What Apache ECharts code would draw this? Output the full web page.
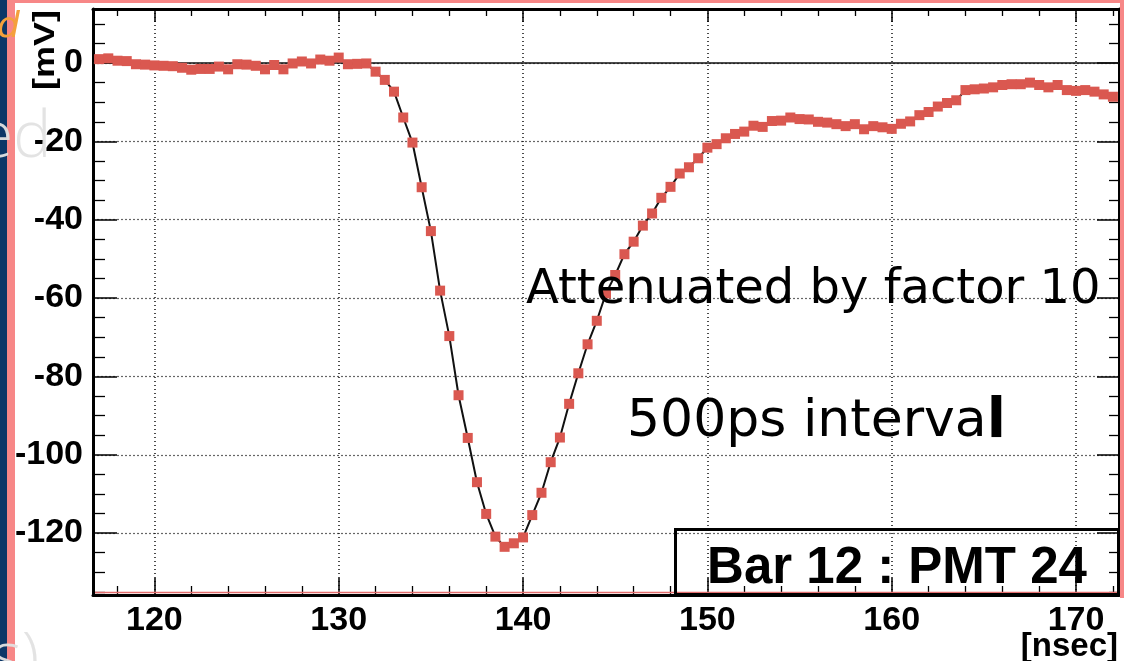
<!DOCTYPE html>
<html><head><meta charset="utf-8">
<script src="https://cdn.jsdelivr.net/npm/echarts@6/dist/echarts.min.js"></script>
<style>html,body{margin:0;padding:0;background:#fff;overflow:hidden}#c{width:1124px;height:661px}</style>
</head><body><div id="c"></div>
<script>
// ---- data ----
const times = [
  117.0,117.5,118.0,118.5,119.0,119.5,120.0,120.5,121.0,121.5,
  122.0,122.5,123.0,123.5,124.0,124.5,125.0,125.5,126.0,126.5,
  127.0,127.5,128.0,128.5,129.0,129.5,130.0,130.5,131.0,131.5,
  132.0,132.5,133.0,133.5,134.0,134.5,135.0,135.5,136.0,136.5,
  137.0,137.5,138.0,138.5,139.0,139.5,140.0,140.5,141.0,141.5,
  142.0,142.5,143.0,143.5,144.0,144.5,145.0,145.5,146.0,146.5,
  147.0,147.5,148.0,148.5,149.0,149.5,150.0,150.5,151.0,151.5,
  152.0,152.5,153.0,153.5,154.0,154.5,155.0,155.5,156.0,156.5,
  157.0,157.5,158.0,158.5,159.0,159.5,160.0,160.5,161.0,161.5,
  162.0,162.5,163.0,163.5,164.0,164.5,165.0,165.5,166.0,166.5,
  167.0,167.5,168.0,168.5,169.0,169.5,170.0,170.5,171.0,171.5,
  172.0
];
const voltages = [
  1.0,1.2,0.6,0.5,-0.3,-0.4,-0.6,-0.7,-0.8,-1.2,
  -1.7,-1.5,-1.5,-0.9,-1.6,-0.3,-0.4,-0.7,-1.6,-0.5,
  -1.6,-0.1,0.4,-0.1,0.9,0.6,1.4,-0.3,-0.2,-0.1,
  -2.2,-4.3,-7.3,-13.9,-20.3,-31.7,-42.9,-58.1,-69.7,-84.8,
  -95.7,-107.0,-115.1,-120.9,-123.5,-122.6,-121.1,-115.4,-109.7,-101.9,
  -95.6,-87.0,-79.2,-71.8,-65.8,-58.8,-54.1,-48.8,-45.6,-41.5,
  -38.4,-34.4,-31.6,-28.2,-26.6,-24.3,-21.6,-20.7,-19.2,-18.1,
  -17.5,-16.0,-16.3,-14.8,-14.7,-13.9,-14.3,-14.4,-15.0,-15.2,
  -15.6,-16.1,-15.6,-16.9,-16.1,-16.4,-16.8,-15.5,-14.9,-13.3,
  -12.5,-11.1,-10.2,-9.5,-6.9,-6.7,-6.5,-6.2,-5.6,-5.4,
  -5.4,-5.0,-5.6,-6.2,-5.6,-6.9,-7.1,-6.9,-7.3,-8.0,
  -8.6
];
const xRange = [116.67, 172.33];
const yRange = [-135.8, 13.8];
const xTickStep = 10;
const yTickStep = 20;
const xTitle = '[nsec]';
const yTitle = '[mV]';
const boxLabel = 'Bar 12 : PMT 24';
const note1 = 'Attenuated by factor 10';
const note2 = ['500ps interva', 'l'];
const slideFragments = ['d', 'ed', 's)'];

// ---- chart ----
const chart = echarts.init(document.getElementById('c'), null, {renderer: 'canvas'});
const boldFont = "'Liberation Sans',Arial,Helvetica,sans-serif";
function stepFormatter(step) {
  return function (v) {
    const r = Math.round(v / step) * step;
    return Math.abs(v - r) < 1e-6 ? String(r) : '';
  };
}
function makeX(pos, showLabel, majLen, minLen) {
  return {
    type: 'value', position: pos, min: xRange[0], max: xRange[1],
    splitNumber: 5, minInterval: xTickStep, maxInterval: xTickStep,
    axisLine: {show: true, onZero: false, lineStyle: {color: '#000', width: 3}},
    axisTick: {show: true, inside: true, length: majLen, lineStyle: {color: '#000', width: 1.5}},
    minorTick: {show: true, splitNumber: 5, length: minLen, lineStyle: {color: '#000', width: 1.3}},
    axisLabel: {show: showLabel, formatter: stepFormatter(xTickStep), color: '#000',
      fontFamily: boldFont, fontWeight: 'bold', fontSize: 34, margin: 9},
    splitLine: {show: showLabel, lineStyle: {color: '#111', width: 1.5, type: [1, 3]}},
    minorSplitLine: {show: false}
  };
}
function makeY(pos, showLabel, majLen, minLen) {
  return {
    type: 'value', position: pos, min: yRange[0], max: yRange[1],
    splitNumber: 7, minInterval: yTickStep, maxInterval: yTickStep,
    axisLine: {show: true, onZero: false, lineStyle: {color: '#000', width: 3}},
    axisTick: {show: true, inside: true, length: majLen, lineStyle: {color: '#000', width: 1.5}},
    minorTick: {show: true, splitNumber: 4, length: minLen, lineStyle: {color: '#000', width: 1.3}},
    axisLabel: {show: showLabel, formatter: stepFormatter(yTickStep), color: '#000',
      fontFamily: boldFont, fontWeight: 'bold', fontSize: 34, margin: 10},
    splitLine: {show: showLabel, lineStyle: {color: '#666', width: 1.2, type: [2, 2]}},
    minorSplitLine: {show: false}
  };
}

const option = {
  backgroundColor: '#fff',
  animation: false,
  grid: {left: 93, right: 5, top: 9, bottom: 66, containLabel: false},
  xAxis: [makeX('bottom', true, 17, 9), makeX('top', false, 13, 7)],
  yAxis: [makeY('left', true, 24, 12), makeY('right', false, 22, 10)],
  series: [
    {
      type: 'line', silent: true, symbol: 'none', z: 1,
      data: [[xRange[0], 0], [xRange[1], 0]],
      lineStyle: {color: '#111', width: 1.6}
    },
    {
      type: 'line', silent: true, z: 3, clip: true,
      data: times.map((t, i) => [t, voltages[i]]),
      symbol: 'rect', symbolSize: 10, showSymbol: true, showAllSymbol: true,
      itemStyle: {color: '#da5850'},
      lineStyle: {color: '#111', width: 2}
    }
  ],
  graphic: [
    {type: 'rect', shape: {x: 0, y: 0, width: 7, height: 661}, style: {fill: '#0c3767'}, z: 50},
    {type: 'rect', shape: {x: 7, y: 0, width: 8, height: 661}, style: {fill: '#f78787'}, z: 50},
    {type: 'rect', shape: {x: 7, y: 0, width: 1117, height: 3}, style: {fill: '#f78787'}, z: 50},
    {type: 'rect', shape: {x: 1120, y: 0, width: 4, height: 598}, style: {fill: '#f78787'}, z: 50},
    {type: 'line', shape: {x1: 95, y1: 592.5, x2: 1117, y2: 592.5}, style: {stroke: '#e36d6d', lineWidth: 1.5}, z: 5},
    {type: 'text', x: -3, y: 10, z: 60,
      style: {text: slideFragments[0], font: 'italic 36px "DejaVu Sans"', fill: '#f4a03c', align: 'left', verticalAlign: 'top', textAlign: 'left', textVerticalAlign: 'top'}},
    {type: 'text', x: -22, y: 139, z: 60,
      style: {text: slideFragments[1], font: '300 64px "Open Sans"', fill: 'rgba(225,225,225,0.95)', align: 'left', verticalAlign: 'middle', textAlign: 'left', textVerticalAlign: 'middle'}},
    {type: 'text', x: -8, y: 660, z: 60,
      style: {text: slideFragments[2], font: '300 64px "Open Sans"', fill: 'rgba(225,225,225,0.95)', align: 'left', verticalAlign: 'middle', textAlign: 'left', textVerticalAlign: 'middle'}},
    {type: 'text', x: 46, y: 10, rotation: Math.PI / 2, scaleX: 1.2, z: 60,
      style: {text: yTitle, font: 'bold 30px ' + boldFont, fill: '#000', align: 'right', verticalAlign: 'middle', textAlign: 'right', textVerticalAlign: 'middle'}},
    {type: 'text', x: 1118, y: 647, z: 60,
      style: {text: xTitle, font: 'bold 33px ' + boldFont, fill: '#000', align: 'right', verticalAlign: 'middle', textAlign: 'right', textVerticalAlign: 'middle'}},
    {type: 'rect', shape: {x: 675.5, y: 529.5, width: 443, height: 65}, style: {fill: 'none', stroke: '#000', lineWidth: 3}, z: 40},
    {type: 'text', x: 897, y: 569, z: 60,
      style: {text: boxLabel, font: 'bold 51px ' + boldFont, fill: '#000', align: 'center', verticalAlign: 'middle', textAlign: 'center', textVerticalAlign: 'middle'}},
    {type: 'text', x: 526, y: 291, z: 60,
      style: {text: note1, font: '48px "DejaVu Sans"', fill: '#000', align: 'left', verticalAlign: 'middle', textAlign: 'left', textVerticalAlign: 'middle'}},
    {type: 'text', x: 627, y: 422, z: 60,
      style: {text: '{a|' + note2[0] + '}{b|' + note2[1] + '}', fill: '#000', align: 'left', verticalAlign: 'middle', textAlign: 'left', textVerticalAlign: 'middle',
        rich: {a: {font: '52px "DejaVu Sans"', fill: '#000', color: '#000'}, b: {font: 'bold 56px "DejaVu Sans"', fill: '#000', color: '#000'}}}}
  ]
};
chart.setOption(option);
</script></body></html>
